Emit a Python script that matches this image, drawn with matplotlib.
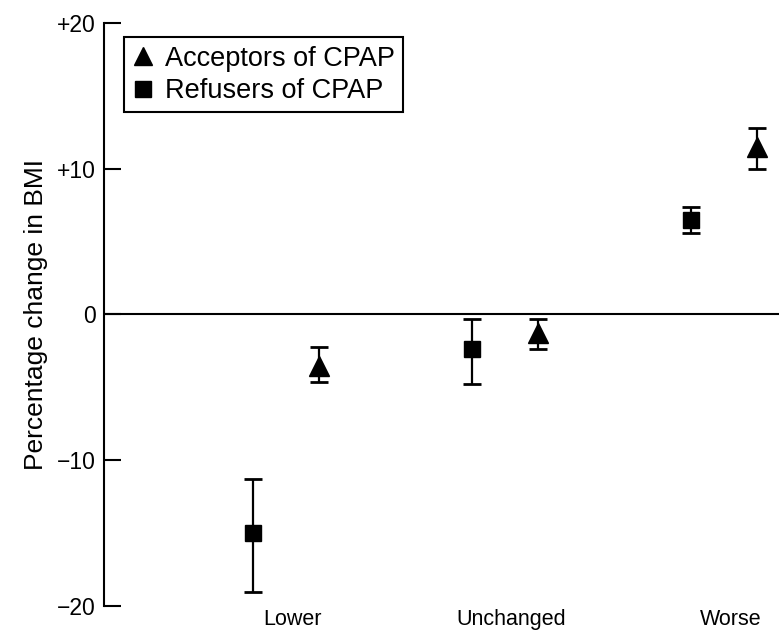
import matplotlib
matplotlib.use('Agg')
import matplotlib.pyplot as plt
from matplotlib.lines import Line2D

plt.rcParams['font.family'] = ['Liberation Sans', 'DejaVu Sans']

# Datos
categorias = ['Lower', 'Unchanged', 'Worse']
acept_media = [-3.5, -1.3, 11.5]
acept_sup = [-2.2, -0.3, 12.8]
acept_inf = [-4.6, -2.4, 10.0]
rech_media = [-15.0, -2.4, 6.5]
rech_sup = [-11.3, -0.3, 7.4]
rech_inf = [-19.0, -4.8, 5.6]
yticks = [-20, -10, 0, 10, 20]
ytick_labels = ['\u221220', '\u221210', '0', '+10', '+20']

x = list(range(len(categorias)))
x_rech = [i - 0.18 for i in x]
x_acept = [i + 0.12 for i in x]

fig = plt.figure(figsize=(7.79, 6.34), dpi=100)
ax = fig.add_axes([0.1335, 0.044, 0.8665, 0.92])

err_r = [[m - b for m, b in zip(rech_media, rech_inf)], [t - m for m, t in zip(rech_media, rech_sup)]]
err_a = [[m - b for m, b in zip(acept_media, acept_inf)], [t - m for m, t in zip(acept_media, acept_sup)]]

ax.errorbar(x_rech, rech_media, yerr=err_r, fmt='s', color='black', markersize=11.5,
            capsize=6.5, elinewidth=1.6, capthick=2)
ax.errorbar(x_acept, acept_media, yerr=err_a, fmt='^', color='black', markersize=14,
            capsize=6.5, elinewidth=1.6, capthick=2)

ax.axhline(0, color='black', linewidth=1.5)

ax.set_xlim(-0.86, 2.22)
ax.set_ylim(-20, 20)
ax.set_yticks(yticks)
ax.set_yticklabels(ytick_labels)
ax.set_xticks(x)
ax.set_xticklabels(categorias)

for s in ['top', 'right', 'bottom']:
    ax.spines[s].set_visible(False)
ax.spines['left'].set_linewidth(1.5)
ax.tick_params(axis='y', direction='in', length=12, width=1.5, labelsize=16.5, pad=6)
ax.tick_params(axis='x', length=0, labelsize=15.5, pad=2)

ax.set_ylabel('Percentage change in BMI', fontsize=19, labelpad=6)

handles = [Line2D([], [], marker='^', color='black', linestyle='none', markersize=13),
           Line2D([], [], marker='s', color='black', linestyle='none', markersize=11)]
leg = ax.legend(handles, ['Acceptors of CPAP', 'Refusers of CPAP'], loc='upper left',
                bbox_to_anchor=(0.03, 0.975), borderaxespad=0, fontsize=19.5,
                fancybox=False, edgecolor='black', framealpha=1,
                handlelength=0.8, handletextpad=0.4, labelspacing=0.25, borderpad=0.3)
leg.get_frame().set_linewidth(1.5)

fig.savefig('out.png', dpi=100)
